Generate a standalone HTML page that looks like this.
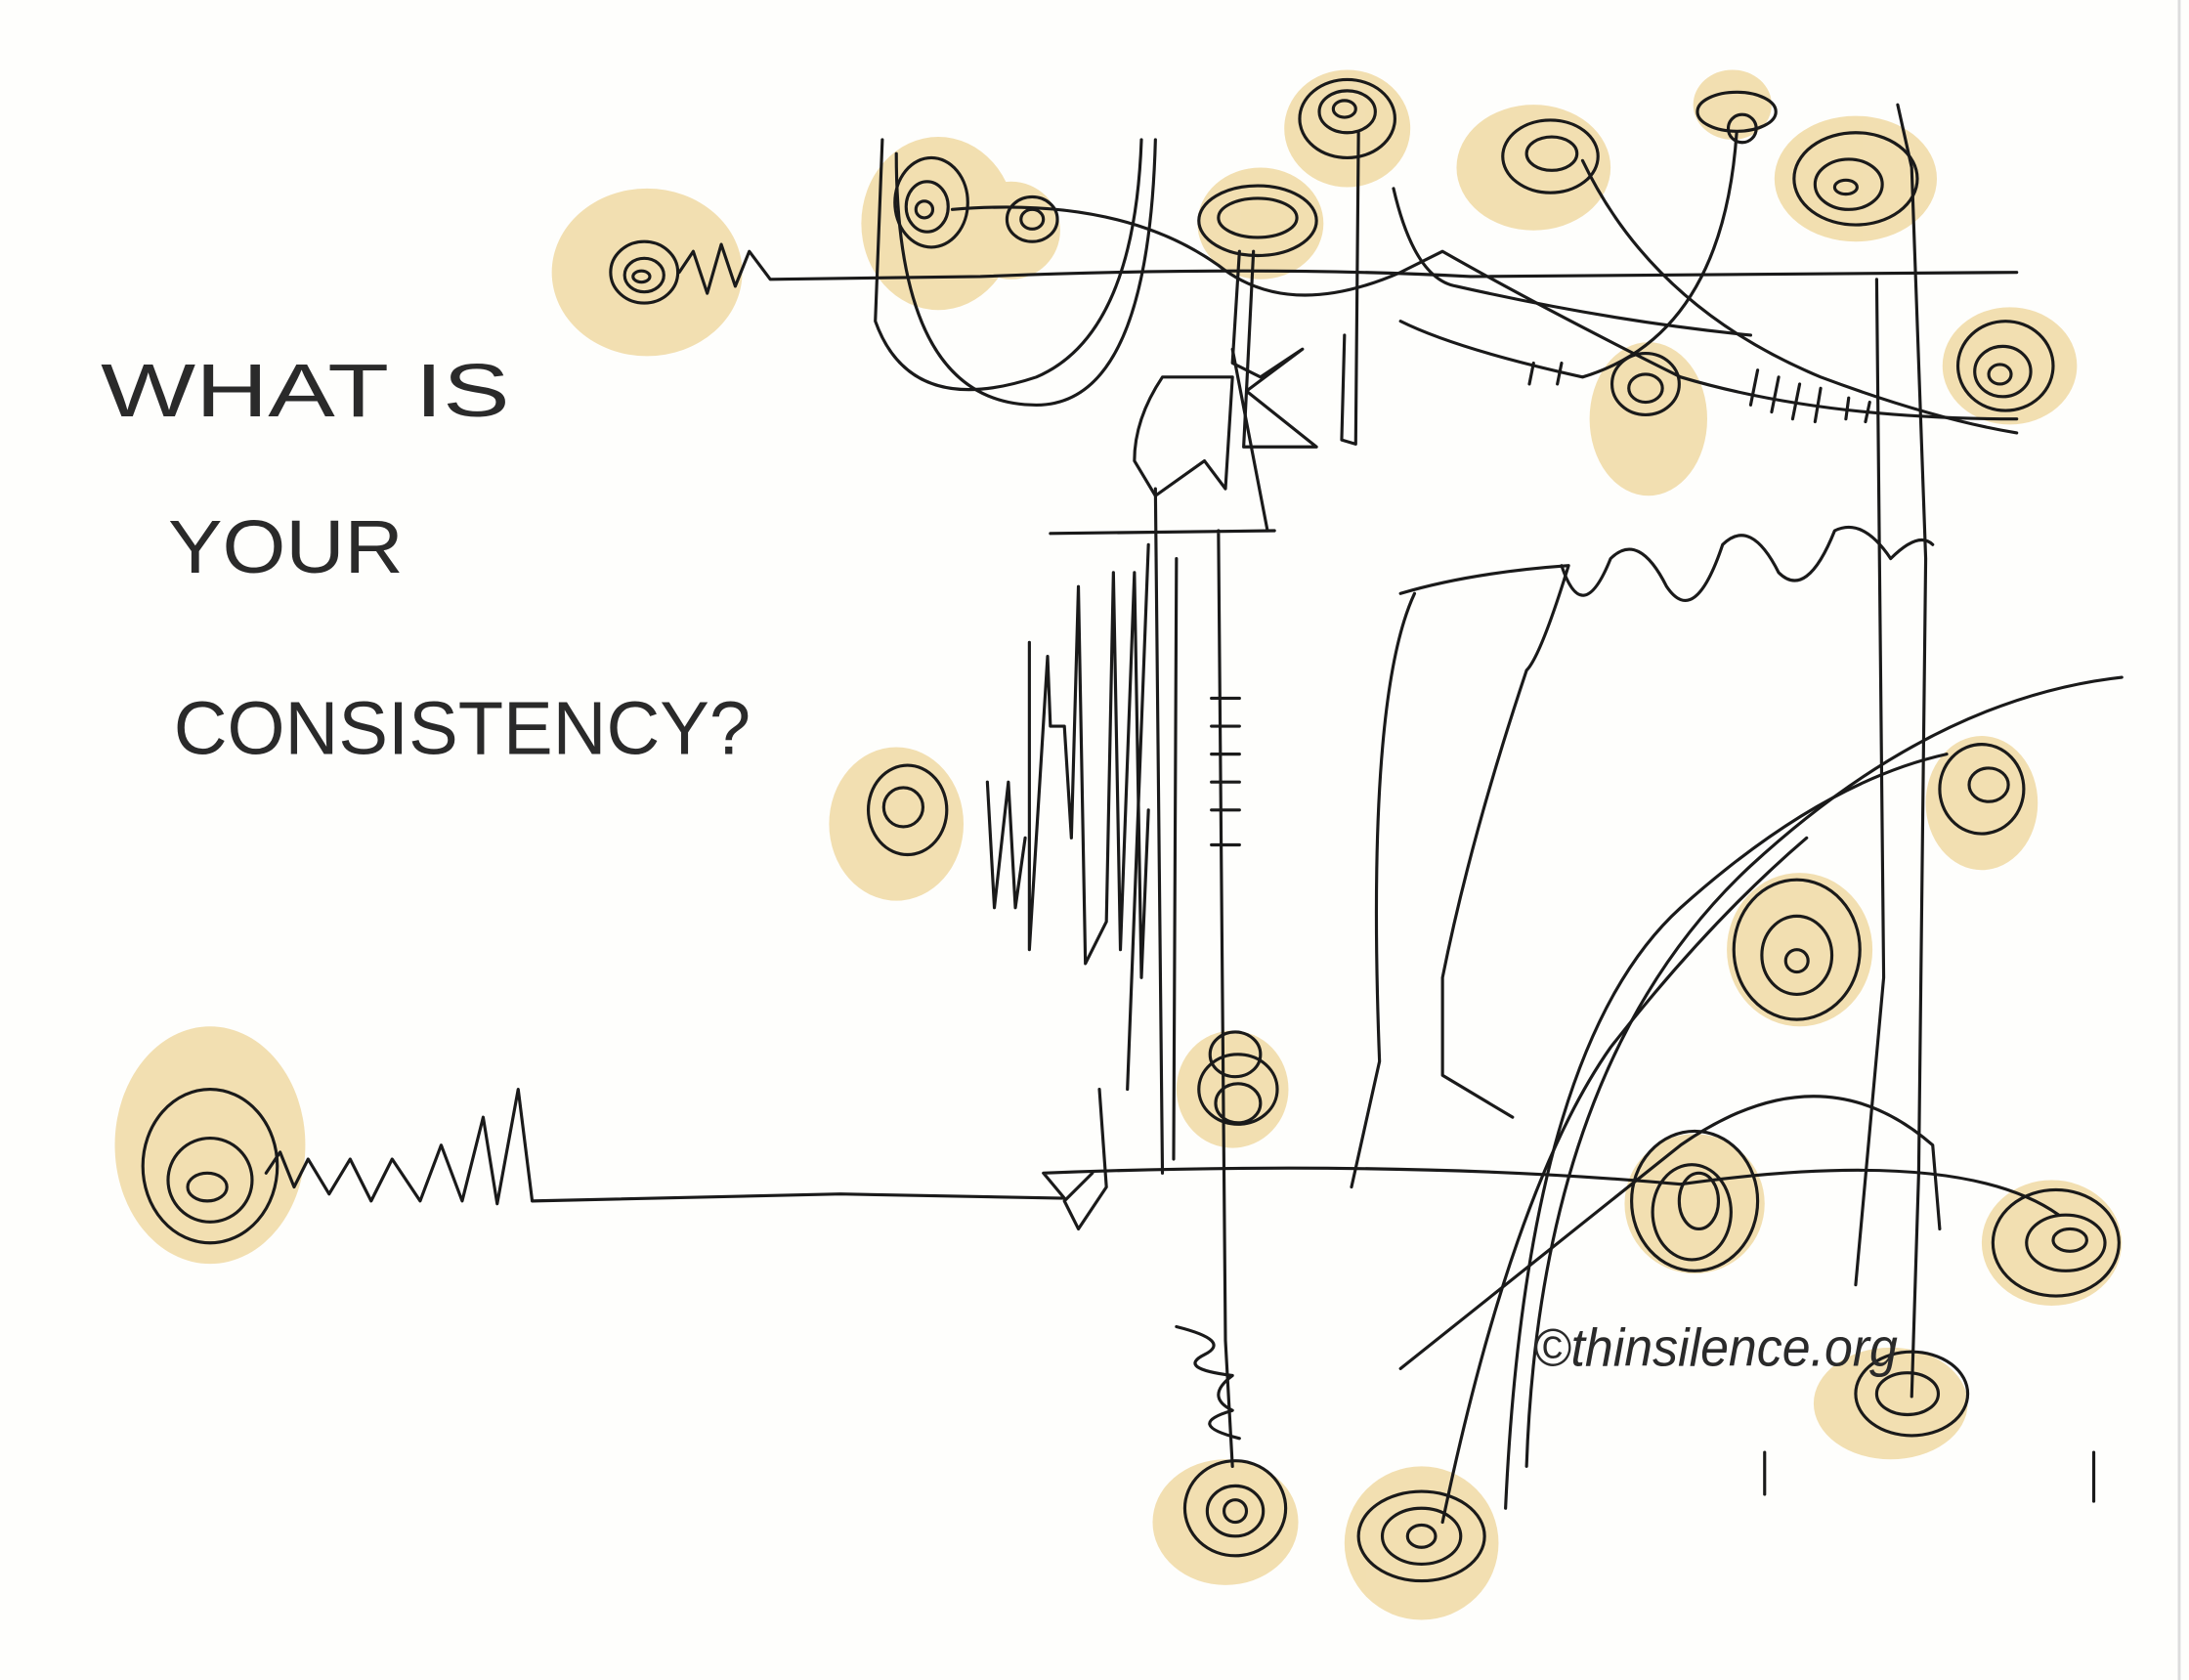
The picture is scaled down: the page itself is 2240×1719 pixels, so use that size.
<!DOCTYPE html>
<html><head><meta charset="utf-8"><style>
html,body{margin:0;padding:0;background:#fefefc;}
svg{display:block;}
text{font-family:"Liberation Sans",sans-serif;fill:#2a2a2a;}
</style></head><body>
<svg width="2240" height="1719" viewBox="0 0 1563 1203" preserveAspectRatio="none" xmlns="http://www.w3.org/2000/svg">
<rect x="0" y="0" width="1563" height="1203" fill="#fefefc"/>
<line x1="1556" y1="0" x2="1556" y2="1203" stroke="#ddd" stroke-width="2"/>
<g fill="#f1dca8" opacity="0.9">
<ellipse cx="462" cy="195" rx="68" ry="60"/>
<ellipse cx="670" cy="160" rx="55" ry="62"/>
<ellipse cx="722" cy="165" rx="35" ry="35"/>
<ellipse cx="962" cy="92" rx="45" ry="42"/>
<ellipse cx="900" cy="160" rx="45" ry="40"/>
<ellipse cx="1095" cy="120" rx="55" ry="45"/>
<ellipse cx="1237" cy="75" rx="28" ry="25"/>
<ellipse cx="1325" cy="128" rx="58" ry="45"/>
<ellipse cx="1435" cy="262" rx="48" ry="42"/>
<ellipse cx="1177" cy="300" rx="42" ry="55"/>
<ellipse cx="640" cy="590" rx="48" ry="55"/>
<ellipse cx="150" cy="820" rx="68" ry="85"/>
<ellipse cx="880" cy="780" rx="40" ry="42"/>
<ellipse cx="1285" cy="680" rx="52" ry="55"/>
<ellipse cx="1415" cy="575" rx="40" ry="48"/>
<ellipse cx="1210" cy="862" rx="50" ry="50"/>
<ellipse cx="1465" cy="890" rx="50" ry="45"/>
<ellipse cx="1350" cy="1005" rx="55" ry="40"/>
<ellipse cx="875" cy="1090" rx="52" ry="45"/>
<ellipse cx="1015" cy="1105" rx="55" ry="55"/>
</g>
<g fill="none" stroke="#1a1a1a" stroke-width="2.2" stroke-linecap="round" stroke-linejoin="round">
<g>
<ellipse cx="460" cy="195" rx="24" ry="22"/><ellipse cx="460" cy="197" rx="14" ry="12"/><ellipse cx="458" cy="198" rx="6" ry="4"/>
<ellipse cx="665" cy="145" rx="26" ry="32"/><ellipse cx="662" cy="148" rx="15" ry="18"/><ellipse cx="660" cy="150" rx="6" ry="6"/>
<ellipse cx="737" cy="157" rx="18" ry="16"/><ellipse cx="737" cy="157" rx="8" ry="7"/>
<ellipse cx="962" cy="85" rx="34" ry="28"/><ellipse cx="962" cy="80" rx="20" ry="15"/><ellipse cx="960" cy="78" rx="8" ry="6"/>
<ellipse cx="898" cy="158" rx="42" ry="25"/><ellipse cx="898" cy="156" rx="28" ry="14"/>
<ellipse cx="1107" cy="112" rx="34" ry="26"/><ellipse cx="1108" cy="110" rx="18" ry="12"/>
<ellipse cx="1240" cy="80" rx="28" ry="14"/><ellipse cx="1244" cy="92" rx="10" ry="10"/>
<ellipse cx="1325" cy="128" rx="44" ry="33"/><ellipse cx="1320" cy="132" rx="24" ry="18"/><ellipse cx="1318" cy="134" rx="8" ry="5"/>
<ellipse cx="1432" cy="262" rx="34" ry="32"/><ellipse cx="1430" cy="266" rx="20" ry="18"/><ellipse cx="1428" cy="268" rx="8" ry="7"/>
<ellipse cx="1175" cy="275" rx="24" ry="22"/><ellipse cx="1175" cy="278" rx="12" ry="10"/>
<ellipse cx="648" cy="580" rx="28" ry="32"/><ellipse cx="645" cy="578" rx="14" ry="14"/>
<ellipse cx="150" cy="835" rx="48" ry="55"/><ellipse cx="150" cy="845" rx="30" ry="30"/><ellipse cx="148" cy="850" rx="14" ry="10"/>
<ellipse cx="882" cy="755" rx="18" ry="16"/><ellipse cx="884" cy="780" rx="28" ry="25"/><ellipse cx="884" cy="790" rx="16" ry="14"/>
<ellipse cx="1283" cy="680" rx="45" ry="50"/><ellipse cx="1283" cy="684" rx="25" ry="28"/><ellipse cx="1283" cy="688" rx="8" ry="8"/>
<ellipse cx="1415" cy="565" rx="30" ry="32"/><ellipse cx="1420" cy="562" rx="14" ry="12"/>
<ellipse cx="1210" cy="860" rx="45" ry="50"/><ellipse cx="1208" cy="868" rx="28" ry="34"/><ellipse cx="1213" cy="860" rx="14" ry="20"/>
<ellipse cx="1468" cy="890" rx="45" ry="38"/><ellipse cx="1475" cy="890" rx="28" ry="20"/><ellipse cx="1478" cy="888" rx="12" ry="8"/>
<ellipse cx="1365" cy="998" rx="40" ry="30"/><ellipse cx="1362" cy="998" rx="22" ry="15"/>
<ellipse cx="882" cy="1080" rx="36" ry="34"/><ellipse cx="882" cy="1082" rx="20" ry="18"/><ellipse cx="882" cy="1082" rx="8" ry="8"/>
<ellipse cx="1015" cy="1100" rx="45" ry="32"/><ellipse cx="1015" cy="1100" rx="28" ry="20"/><ellipse cx="1015" cy="1100" rx="10" ry="8"/>
</g>
<path d="M485 195 L495 180 L505 210 L515 175 L525 205 L535 180 L550 200 L700 198 Q900 190 1050 198 L1440 195"/>
<path d="M630 100 L625 230 Q650 300 740 270 Q810 240 815 100"/>
<path d="M640 110 Q640 290 740 290 Q820 290 825 100"/>
<path d="M680 150 Q800 140 870 190 Q920 230 1000 195 L1030 180 Q1100 220 1200 270 Q1300 300 1440 300"/>
<path d="M995 135 Q1010 200 1040 205 Q1150 230 1250 240"/>
<path d="M1130 115 Q1180 220 1300 270 Q1380 300 1440 310"/>
<path d="M1240 95 Q1230 240 1130 270 Q1040 250 1000 230"/>
<path d="M970 95 L968 318 L958 315 L960 240"/>
<path d="M895 180 L888 320 L940 320 L890 280 L930 250 L900 270 L880 260 L885 180"/>
<path d="M830 270 Q810 300 810 330 L825 355 L860 330 L875 350 L880 270 Z"/>
<path d="M750 382 L910 380 M870 380 L875 960 L880 1050"/>
<path d="M880 250 L905 380"/>
<path d="M825 350 L830 840 M820 390 L805 780 M840 400 L838 830"/>
<path d="M1355 75 L1365 120 L1375 400 L1370 840 L1365 1000"/>
<path d="M1340 200 L1345 700 L1325 920"/>
<path d="M1000 425 Q1050 410 1120 405 Q1100 470 1090 480 Q1050 600 1030 700 L1030 770 L1080 800"/>
<path d="M1010 425 Q975 500 985 760 L965 850"/>
<path d="M1115 405 Q1130 450 1150 400 Q1170 380 1190 420 Q1210 450 1230 390 Q1250 370 1270 410 Q1290 430 1310 380 Q1330 370 1350 400 Q1370 380 1380 390"/>
<path d="M190 840 L200 825 L210 850 L220 830 L235 855 L250 830 L265 860 L280 830 L300 860 L315 820 L330 860 L345 800 L355 862 L370 780 L380 860 L600 855 L760 858 L745 840 Q1000 830 1200 848 Q1400 820 1470 870"/>
<path d="M785 780 L790 850 L770 880 L760 860 L780 840"/>
<path d="M1000 980 Q1100 900 1200 820 Q1300 750 1380 820 L1385 880"/>
<path d="M1075 1080 Q1090 750 1200 650 Q1300 560 1390 540"/>
<path d="M1090 1050 Q1100 760 1250 620 Q1380 500 1515 485"/>
<path d="M1030 1090 Q1080 850 1150 750 Q1220 660 1290 600"/>
<path d="M735 460 L735 680 L748 470 L750 520 L760 520 L765 600 L770 420 L775 690 L790 660 L795 410 L800 680 L810 410 L815 700 L820 580"/>
<path d="M705 560 L710 650 L720 560 L725 650 L732 600"/>
<path d="M865 500 L885 500 M865 520 L885 520 M865 540 L885 540 M865 560 L885 560 M865 580 L885 580 M865 605 L885 605"/>
<path d="M1095 260 L1092 275 M1115 260 L1112 275 M1255 265 L1250 290 M1270 270 L1265 295 M1285 275 L1280 300 M1300 278 L1296 302 M1320 285 L1318 300 M1335 288 L1332 302"/>
<path d="M840 950 Q880 960 860 970 Q840 980 880 985 Q860 1000 880 1010 Q845 1020 885 1030"/>
<path d="M1260 1040 L1260 1070 M1495 1040 L1495 1075"/>
</g>
<g font-size="54">
<text x="72" y="298" textLength="292" lengthAdjust="spacingAndGlyphs">WHAT IS</text>
<text x="120" y="410" textLength="168" lengthAdjust="spacingAndGlyphs">YOUR</text>
<text x="124" y="540" textLength="412" lengthAdjust="spacingAndGlyphs">CONSISTENCY?</text>
</g>
<text x="1095" y="978" font-size="38" font-style="italic" textLength="260" lengthAdjust="spacingAndGlyphs">©thinsilence.org</text>
</svg>
</body></html>
